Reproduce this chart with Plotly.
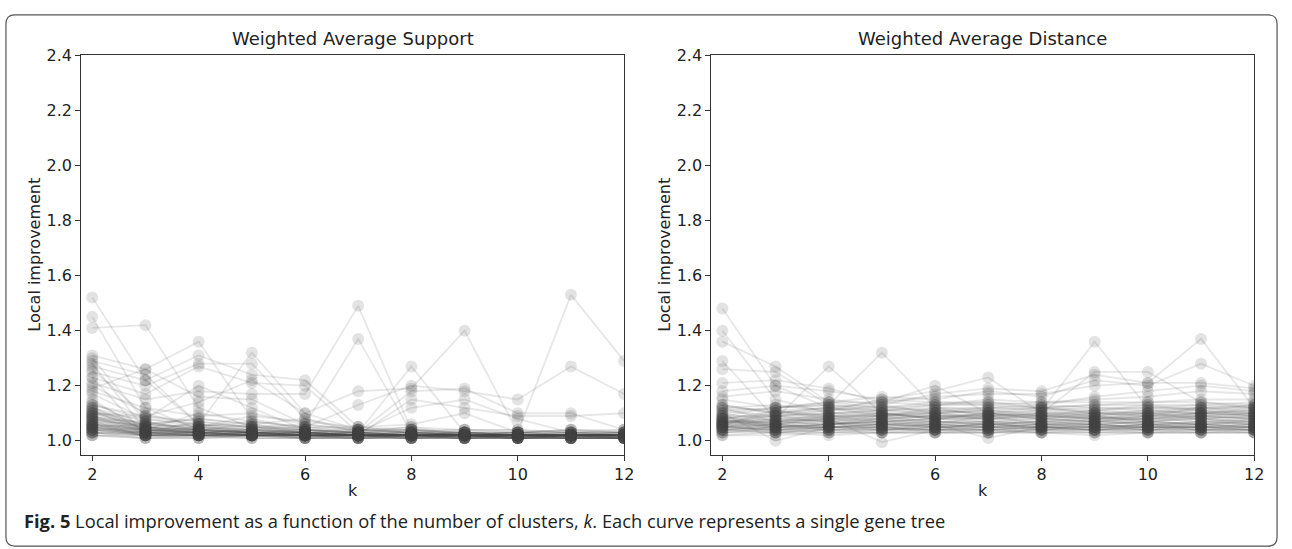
import plotly.graph_objects as go

k_values = [2, 3, 4, 5, 6, 7, 8, 9, 10, 11, 12]
y_ticks = [1.0, 1.2, 1.4, 1.6, 1.8, 2.0, 2.2, 2.4]
x_ticks = [2, 4, 6, 8, 10, 12]
panel_titles = ["Weighted Average Support", "Weighted Average Distance"]

# ---- Weighted Average Support: one list per gene tree (values at k = 2..12)
was_01 = [1.52, 1.22, 1.06, 1.03, 1.02, 1.02, 1.02, 1.02, 1.01, 1.02, 1.02]
was_02 = [1.45, 1.12, 1.04, 1.03, 1.02, 1.02, 1.01, 1.02, 1.02, 1.01, 1.01]
was_03 = [1.41, 1.42, 1.12, 1.05, 1.03, 1.02, 1.02, 1.02, 1.02, 1.02, 1.02]
was_04 = [1.31, 1.26, 1.36, 1.08, 1.04, 1.03, 1.02, 1.02, 1.02, 1.02, 1.02]
was_05 = [1.29, 1.24, 1.06, 1.32, 1.10, 1.04, 1.03, 1.02, 1.02, 1.02, 1.02]
was_06 = [1.27, 1.22, 1.31, 1.24, 1.22, 1.05, 1.03, 1.03, 1.02, 1.02, 1.02]
was_07 = [1.25, 1.20, 1.28, 1.28, 1.08, 1.04, 1.04, 1.02, 1.03, 1.02, 1.02]
was_08 = [1.23, 1.17, 1.27, 1.21, 1.20, 1.03, 1.27, 1.03, 1.02, 1.02, 1.02]
was_09 = [1.21, 1.15, 1.18, 1.17, 1.17, 1.49, 1.04, 1.03, 1.02, 1.02, 1.02]
was_10 = [1.19, 1.26, 1.16, 1.15, 1.06, 1.37, 1.03, 1.02, 1.02, 1.02, 1.02]
was_11 = [1.13, 1.09, 1.14, 1.22, 1.10, 1.18, 1.19, 1.40, 1.03, 1.02, 1.02]
was_12 = [1.12, 1.05, 1.03, 1.02, 1.02, 1.02, 1.02, 1.03, 1.03, 1.53, 1.29]
was_13 = [1.11, 1.04, 1.10, 1.07, 1.05, 1.13, 1.20, 1.18, 1.15, 1.27, 1.17]
was_14 = [1.10, 1.08, 1.20, 1.12, 1.04, 1.03, 1.18, 1.19, 1.10, 1.10, 1.04]
was_15 = [1.08, 1.03, 1.03, 1.04, 1.03, 1.02, 1.15, 1.12, 1.09, 1.09, 1.10]
was_16 = [1.07, 1.06, 1.08, 1.06, 1.08, 1.03, 1.12, 1.15, 1.08, 1.03, 1.03]
was_17 = [1.06, 1.04, 1.05, 1.09, 1.07, 1.05, 1.06, 1.10, 1.03, 1.04, 1.03]
was_18 = [1.05, 1.03, 1.02, 1.02, 1.02, 1.01, 1.02, 1.01, 1.01, 1.01, 1.01]
was_19 = [1.04, 1.02, 1.02, 1.03, 1.01, 1.02, 1.01, 1.02, 1.01, 1.02, 1.01]
was_20 = [1.03, 1.02, 1.01, 1.02, 1.02, 1.01, 1.01, 1.01, 1.02, 1.01, 1.01]
was_21 = [1.02, 1.01, 1.02, 1.01, 1.01, 1.01, 1.02, 1.01, 1.01, 1.01, 1.01]
was_22 = [1.06, 1.03, 1.03, 1.02, 1.02, 1.02, 1.03, 1.02, 1.02, 1.02, 1.02]
was_23 = [1.08, 1.05, 1.04, 1.03, 1.03, 1.02, 1.02, 1.02, 1.02, 1.03, 1.02]
was_24 = [1.09, 1.04, 1.03, 1.04, 1.02, 1.03, 1.02, 1.03, 1.02, 1.02, 1.03]
was_25 = [1.10, 1.06, 1.05, 1.04, 1.03, 1.02, 1.03, 1.02, 1.03, 1.02, 1.02]
was_26 = [1.12, 1.07, 1.04, 1.03, 1.03, 1.03, 1.02, 1.02, 1.02, 1.02, 1.02]
was_27 = [1.15, 1.03, 1.02, 1.03, 1.02, 1.02, 1.02, 1.01, 1.02, 1.02, 1.01]
was_28 = [1.17, 1.08, 1.06, 1.05, 1.04, 1.03, 1.03, 1.02, 1.02, 1.03, 1.02]
was_29 = [1.20, 1.10, 1.05, 1.04, 1.03, 1.02, 1.02, 1.03, 1.02, 1.02, 1.02]
was_30 = [1.23, 1.02, 1.02, 1.02, 1.01, 1.01, 1.01, 1.01, 1.01, 1.01, 1.01]
was_31 = [1.28, 1.04, 1.03, 1.02, 1.02, 1.02, 1.02, 1.02, 1.02, 1.02, 1.02]
was_32 = [1.30, 1.07, 1.04, 1.06, 1.03, 1.02, 1.02, 1.02, 1.01, 1.02, 1.02]
was_33 = [1.04, 1.03, 1.07, 1.05, 1.06, 1.04, 1.05, 1.04, 1.04, 1.03, 1.03]
was_34 = [1.05, 1.04, 1.04, 1.03, 1.04, 1.04, 1.04, 1.03, 1.03, 1.04, 1.04]
was_35 = [1.03, 1.02, 1.03, 1.02, 1.03, 1.02, 1.02, 1.02, 1.02, 1.02, 1.02]
was_36 = [1.02, 1.02, 1.02, 1.02, 1.02, 1.02, 1.02, 1.02, 1.02, 1.02, 1.02]
was_37 = [1.07, 1.02, 1.02, 1.01, 1.01, 1.02, 1.01, 1.01, 1.01, 1.01, 1.01]
was_38 = [1.11, 1.03, 1.02, 1.02, 1.02, 1.01, 1.02, 1.02, 1.01, 1.02, 1.01]
was_39 = [1.09, 1.06, 1.05, 1.03, 1.03, 1.02, 1.02, 1.02, 1.02, 1.02, 1.02]
was_40 = [1.14, 1.05, 1.03, 1.03, 1.02, 1.02, 1.02, 1.02, 1.02, 1.01, 1.02]
was_41 = [1.06, 1.04, 1.03, 1.02, 1.03, 1.03, 1.02, 1.02, 1.02, 1.02, 1.02]
was_42 = [1.03, 1.03, 1.02, 1.03, 1.02, 1.02, 1.03, 1.02, 1.02, 1.02, 1.02]
was_43 = [1.05, 1.02, 1.03, 1.02, 1.01, 1.01, 1.01, 1.02, 1.01, 1.01, 1.01]
was_44 = [1.08, 1.05, 1.02, 1.02, 1.02, 1.02, 1.02, 1.01, 1.02, 1.02, 1.02]
was_45 = [1.04, 1.04, 1.03, 1.03, 1.02, 1.03, 1.02, 1.02, 1.02, 1.02, 1.02]
was_46 = [1.26, 1.09, 1.07, 1.05, 1.04, 1.03, 1.03, 1.02, 1.02, 1.02, 1.02]
was_47 = [1.18, 1.12, 1.09, 1.10, 1.06, 1.04, 1.03, 1.03, 1.02, 1.02, 1.02]
was_48 = [1.02, 1.01, 1.01, 1.01, 1.01, 1.01, 1.01, 1.01, 1.01, 1.01, 1.01]
was_49 = [1.13, 1.08, 1.05, 1.07, 1.05, 1.03, 1.05, 1.02, 1.02, 1.02, 1.02]
was_50 = [1.05, 1.06, 1.04, 1.04, 1.03, 1.02, 1.02, 1.02, 1.02, 1.02, 1.02]
was_51 = [1.07, 1.03, 1.05, 1.03, 1.04, 1.03, 1.02, 1.02, 1.01, 1.01, 1.01]
was_52 = [1.04, 1.02, 1.02, 1.02, 1.02, 1.02, 1.02, 1.02, 1.02, 1.02, 1.02]
was_53 = [1.10, 1.09, 1.06, 1.05, 1.05, 1.04, 1.03, 1.03, 1.03, 1.03, 1.03]
was_54 = [1.03, 1.01, 1.01, 1.02, 1.01, 1.01, 1.01, 1.01, 1.01, 1.01, 1.01]
was_55 = [1.06, 1.05, 1.04, 1.03, 1.02, 1.02, 1.02, 1.02, 1.01, 1.02, 1.02]
was_56 = [1.09, 1.03, 1.03, 1.02, 1.02, 1.02, 1.01, 1.01, 1.01, 1.01, 1.01]
was_57 = [1.04, 1.05, 1.06, 1.04, 1.05, 1.05, 1.04, 1.04, 1.03, 1.04, 1.03]
was_58 = [1.11, 1.06, 1.08, 1.06, 1.04, 1.03, 1.04, 1.03, 1.03, 1.03, 1.04]
was_59 = [1.06, 1.02, 1.04, 1.05, 1.03, 1.04, 1.03, 1.04, 1.04, 1.03, 1.03]
was_60 = [1.08, 1.07, 1.03, 1.04, 1.04, 1.02, 1.04, 1.02, 1.03, 1.03, 1.02]
was_61 = [1.05, 1.03, 1.03, 1.02, 1.03, 1.02, 1.02, 1.01, 1.02, 1.02, 1.02]
was_62 = [1.07, 1.04, 1.02, 1.03, 1.02, 1.02, 1.02, 1.02, 1.02, 1.01, 1.01]
was_63 = [1.10, 1.05, 1.04, 1.02, 1.02, 1.01, 1.02, 1.02, 1.02, 1.02, 1.02]
was_64 = [1.04, 1.03, 1.02, 1.02, 1.02, 1.02, 1.01, 1.02, 1.02, 1.02, 1.02]
was_65 = [1.12, 1.04, 1.03, 1.03, 1.03, 1.02, 1.02, 1.02, 1.02, 1.02, 1.02]
was_66 = [1.06, 1.02, 1.02, 1.02, 1.02, 1.02, 1.02, 1.02, 1.01, 1.01, 1.01]
was_67 = [1.03, 1.03, 1.04, 1.03, 1.02, 1.03, 1.02, 1.03, 1.02, 1.02, 1.02]
was_68 = [1.08, 1.04, 1.04, 1.03, 1.03, 1.02, 1.02, 1.02, 1.02, 1.02, 1.03]
was_69 = [1.05, 1.02, 1.02, 1.02, 1.02, 1.02, 1.02, 1.01, 1.01, 1.02, 1.01]
was_70 = [1.09, 1.05, 1.03, 1.03, 1.03, 1.03, 1.02, 1.02, 1.02, 1.02, 1.02]

# ---- Weighted Average Distance: one list per gene tree (values at k = 2..12)
wad_01 = [1.48, 1.20, 1.12, 1.10, 1.08, 1.09, 1.08, 1.10, 1.09, 1.10, 1.09]
wad_02 = [1.40, 1.15, 1.10, 1.09, 1.10, 1.08, 1.10, 1.08, 1.10, 1.08, 1.07]
wad_03 = [1.36, 1.27, 1.14, 1.12, 1.11, 1.10, 1.09, 1.11, 1.10, 1.12, 1.10]
wad_04 = [1.29, 1.08, 1.27, 1.10, 1.09, 1.10, 1.08, 1.09, 1.07, 1.09, 1.08]
wad_05 = [1.26, 1.25, 1.13, 1.32, 1.12, 1.11, 1.12, 1.10, 1.11, 1.10, 1.11]
wad_06 = [1.21, 1.22, 1.19, 1.14, 1.20, 1.10, 1.11, 1.36, 1.12, 1.12, 1.13]
wad_07 = [1.18, 1.20, 1.18, 1.15, 1.18, 1.23, 1.10, 1.25, 1.25, 1.14, 1.12]
wad_08 = [1.16, 1.18, 1.15, 1.13, 1.17, 1.19, 1.18, 1.24, 1.21, 1.37, 1.12]
wad_09 = [1.15, 1.12, 1.14, 1.16, 1.15, 1.18, 1.16, 1.22, 1.20, 1.28, 1.20]
wad_10 = [1.13, 1.10, 1.12, 1.14, 1.16, 1.17, 1.17, 1.20, 1.21, 1.21, 1.19]
wad_11 = [1.12, 1.13, 1.11, 1.15, 1.14, 1.14, 1.13, 1.16, 1.18, 1.20, 1.18]
wad_12 = [1.11, 1.12, 1.13, 1.12, 1.13, 1.15, 1.14, 1.15, 1.16, 1.18, 1.17]
wad_13 = [1.10, 1.00, 1.05, 1.06, 1.05, 1.06, 1.05, 1.06, 1.05, 1.06, 1.05]
wad_14 = [1.09, 1.06, 1.08, 0.995, 1.04, 1.05, 1.04, 1.05, 1.04, 1.05, 1.04]
wad_15 = [1.08, 1.05, 1.06, 1.07, 1.06, 1.01, 1.05, 1.04, 1.06, 1.04, 1.05]
wad_16 = [1.07, 1.07, 1.08, 1.08, 1.09, 1.08, 1.09, 1.08, 1.09, 1.08, 1.09]
wad_17 = [1.06, 1.05, 1.05, 1.04, 1.05, 1.04, 1.05, 1.04, 1.05, 1.05, 1.04]
wad_18 = [1.05, 1.04, 1.04, 1.05, 1.04, 1.05, 1.04, 1.05, 1.04, 1.04, 1.05]
wad_19 = [1.04, 1.03, 1.03, 1.03, 1.03, 1.03, 1.04, 1.03, 1.03, 1.03, 1.03]
wad_20 = [1.03, 1.03, 1.04, 1.03, 1.04, 1.04, 1.03, 1.04, 1.04, 1.04, 1.03]
wad_21 = [1.02, 1.02, 1.03, 1.03, 1.03, 1.03, 1.03, 1.03, 1.03, 1.03, 1.03]
wad_22 = [1.07, 1.09, 1.10, 1.11, 1.12, 1.12, 1.11, 1.12, 1.11, 1.12, 1.12]
wad_23 = [1.06, 1.08, 1.07, 1.06, 1.07, 1.07, 1.08, 1.07, 1.08, 1.07, 1.08]
wad_24 = [1.08, 1.10, 1.09, 1.10, 1.10, 1.11, 1.10, 1.11, 1.12, 1.11, 1.10]
wad_25 = [1.05, 1.06, 1.07, 1.05, 1.06, 1.05, 1.06, 1.07, 1.06, 1.06, 1.07]
wad_26 = [1.09, 1.05, 1.06, 1.08, 1.07, 1.06, 1.07, 1.06, 1.07, 1.08, 1.06]
wad_27 = [1.12, 1.11, 1.12, 1.11, 1.13, 1.13, 1.12, 1.13, 1.13, 1.13, 1.14]
wad_28 = [1.04, 1.04, 1.05, 1.06, 1.05, 1.06, 1.06, 1.05, 1.06, 1.05, 1.06]
wad_29 = [1.06, 1.03, 1.04, 1.04, 1.04, 1.04, 1.05, 1.04, 1.05, 1.04, 1.04]
wad_30 = [1.03, 1.05, 1.06, 1.07, 1.08, 1.07, 1.07, 1.08, 1.08, 1.09, 1.08]
wad_31 = [1.05, 1.08, 1.09, 1.09, 1.11, 1.10, 1.12, 1.10, 1.10, 1.10, 1.11]
wad_32 = [1.07, 1.06, 1.05, 1.06, 1.06, 1.09, 1.06, 1.06, 1.07, 1.06, 1.06]
wad_33 = [1.10, 1.07, 1.10, 1.10, 1.08, 1.10, 1.09, 1.09, 1.08, 1.10, 1.09]
wad_34 = [1.04, 1.06, 1.04, 1.05, 1.03, 1.04, 1.03, 1.03, 1.04, 1.03, 1.04]
wad_35 = [1.08, 1.09, 1.11, 1.13, 1.10, 1.12, 1.13, 1.12, 1.12, 1.13, 1.12]
wad_36 = [1.06, 1.11, 1.08, 1.09, 1.09, 1.08, 1.08, 1.07, 1.09, 1.09, 1.10]
wad_37 = [1.05, 1.04, 1.06, 1.07, 1.07, 1.06, 1.07, 1.06, 1.05, 1.07, 1.07]
wad_38 = [1.07, 1.05, 1.07, 1.04, 1.06, 1.05, 1.05, 1.05, 1.06, 1.05, 1.05]
wad_39 = [1.11, 1.09, 1.07, 1.08, 1.09, 1.09, 1.10, 1.09, 1.10, 1.09, 1.10]
wad_40 = [1.03, 1.04, 1.03, 1.04, 1.04, 1.03, 1.04, 1.04, 1.03, 1.04, 1.04]
wad_41 = [1.09, 1.12, 1.13, 1.11, 1.11, 1.12, 1.12, 1.11, 1.13, 1.11, 1.13]
wad_42 = [1.12, 1.07, 1.09, 1.09, 1.10, 1.11, 1.09, 1.10, 1.09, 1.12, 1.11]
wad_43 = [1.05, 1.05, 1.05, 1.06, 1.05, 1.05, 1.05, 1.05, 1.05, 1.05, 1.06]
wad_44 = [1.06, 1.07, 1.08, 1.07, 1.08, 1.08, 1.07, 1.07, 1.07, 1.08, 1.07]
wad_45 = [1.04, 1.05, 1.04, 1.04, 1.05, 1.04, 1.04, 1.06, 1.04, 1.06, 1.05]
wad_46 = [1.08, 1.04, 1.05, 1.05, 1.04, 1.07, 1.04, 1.04, 1.05, 1.04, 1.04]
wad_47 = [1.13, 1.10, 1.11, 1.12, 1.14, 1.13, 1.14, 1.14, 1.14, 1.15, 1.15]
wad_48 = [1.02, 1.03, 1.02, 1.03, 1.03, 1.03, 1.03, 1.02, 1.03, 1.03, 1.03]
wad_49 = [1.06, 1.10, 1.12, 1.09, 1.12, 1.09, 1.11, 1.09, 1.11, 1.10, 1.12]
wad_50 = [1.08, 1.06, 1.09, 1.07, 1.08, 1.10, 1.08, 1.07, 1.08, 1.09, 1.08]
wad_51 = [1.05, 1.07, 1.06, 1.08, 1.06, 1.07, 1.06, 1.08, 1.06, 1.07, 1.06]
wad_52 = [1.10, 1.12, 1.14, 1.14, 1.13, 1.14, 1.12, 1.13, 1.14, 1.14, 1.13]
wad_53 = [1.04, 1.03, 1.05, 1.05, 1.04, 1.04, 1.05, 1.04, 1.04, 1.05, 1.05]
wad_54 = [1.07, 1.08, 1.07, 1.09, 1.07, 1.06, 1.07, 1.09, 1.07, 1.06, 1.07]
wad_55 = [1.06, 1.06, 1.08, 1.06, 1.07, 1.07, 1.06, 1.06, 1.07, 1.06, 1.08]
wad_56 = [1.09, 1.09, 1.10, 1.11, 1.10, 1.09, 1.10, 1.10, 1.10, 1.11, 1.09]
wad_57 = [1.05, 1.04, 1.05, 1.05, 1.06, 1.05, 1.06, 1.06, 1.05, 1.05, 1.05]
wad_58 = [1.07, 1.07, 1.06, 1.07, 1.05, 1.06, 1.05, 1.07, 1.06, 1.07, 1.06]
wad_59 = [1.08, 1.11, 1.09, 1.08, 1.09, 1.09, 1.09, 1.08, 1.09, 1.10, 1.10]
wad_60 = [1.04, 1.05, 1.06, 1.06, 1.06, 1.06, 1.05, 1.05, 1.06, 1.06, 1.05]
wad_61 = [1.06, 1.09, 1.08, 1.10, 1.08, 1.08, 1.09, 1.08, 1.08, 1.08, 1.09]
wad_62 = [1.05, 1.06, 1.05, 1.04, 1.05, 1.05, 1.06, 1.05, 1.05, 1.05, 1.04]

support_trees = [was_01, was_02, was_03, was_04, was_05, was_06, was_07, was_08,
                 was_09, was_10, was_11, was_12, was_13, was_14, was_15, was_16,
                 was_17, was_18, was_19, was_20, was_21, was_22, was_23, was_24,
                 was_25, was_26, was_27, was_28, was_29, was_30, was_31, was_32,
                 was_33, was_34, was_35, was_36, was_37, was_38, was_39, was_40,
                 was_41, was_42, was_43, was_44, was_45, was_46, was_47, was_48,
                 was_49, was_50, was_51, was_52, was_53, was_54, was_55, was_56,
                 was_57, was_58, was_59, was_60, was_61, was_62, was_63, was_64,
                 was_65, was_66, was_67, was_68, was_69, was_70]
distance_trees = [wad_01, wad_02, wad_03, wad_04, wad_05, wad_06, wad_07, wad_08,
                  wad_09, wad_10, wad_11, wad_12, wad_13, wad_14, wad_15, wad_16,
                  wad_17, wad_18, wad_19, wad_20, wad_21, wad_22, wad_23, wad_24,
                  wad_25, wad_26, wad_27, wad_28, wad_29, wad_30, wad_31, wad_32,
                  wad_33, wad_34, wad_35, wad_36, wad_37, wad_38, wad_39, wad_40,
                  wad_41, wad_42, wad_43, wad_44, wad_45, wad_46, wad_47, wad_48,
                  wad_49, wad_50, wad_51, wad_52, wad_53, wad_54, wad_55, wad_56,
                  wad_57, wad_58, wad_59, wad_60, wad_61, wad_62]

W, H = 1292, 549
LINE_C = "rgba(70,70,70,0.13)"
MARK_C = "rgba(70,70,70,0.15)"

fig = go.Figure()
for trees, xa, ya in [(support_trees, "x", "y"), (distance_trees, "x2", "y2")]:
    for vals in trees:
        fig.add_trace(go.Scatter(
            x=k_values, y=vals, xaxis=xa, yaxis=ya, mode="lines+markers",
            line=dict(color=LINE_C, width=1.8),
            marker=dict(color=MARK_C, size=12, line=dict(width=0)),
            showlegend=False, hoverinfo="skip"))

def px_x(p):
    return p / W

def px_y(p):
    return 1 - p / H

tick_font = dict(family="DejaVu Sans", size=16, color="#222")
axis_common = dict(showline=True, linecolor="#333", linewidth=1.3, mirror=True,
                   ticks="outside", ticklen=5, tickwidth=1.2, tickcolor="#333",
                   showgrid=False, zeroline=False, tickfont=tick_font, fixedrange=True)

fig.update_layout(
    width=W, height=H, margin=dict(l=0, r=0, t=0, b=0),
    paper_bgcolor="white", plot_bgcolor="white",
    xaxis=dict(domain=[px_x(82), px_x(629)], range=[1.795, 12], tickvals=x_ticks,
               **axis_common),
    yaxis=dict(domain=[px_y(453), px_y(47)], range=[0.95, 2.4], tickvals=y_ticks,
               tickformat=".1f", **axis_common),
    xaxis2=dict(domain=[px_x(717), px_x(1264)], range=[1.795, 12], tickvals=x_ticks,
                anchor="y2", **axis_common),
    yaxis2=dict(domain=[px_y(453), px_y(47)], range=[0.95, 2.4], tickvals=y_ticks,
                tickformat=".1f", anchor="x2", **axis_common),
)

label_font = dict(family="DejaVu Sans", size=16, color="#222")
title_font = dict(family="DejaVu Sans", size=18, color="#222")
annotations = []
for (x0, x1), title in zip([(82, 629), (717, 1264)], panel_titles):
    xc = (x0 + x1) / 2
    annotations.append(dict(text=title, x=px_x(xc), y=px_y(30), xref="paper", yref="paper",
                            showarrow=False, font=title_font, xanchor="center", yanchor="middle"))
    annotations.append(dict(text="k", x=px_x(xc), y=px_y(490), xref="paper", yref="paper",
                            showarrow=False, font=label_font, xanchor="center", yanchor="middle"))
    annotations.append(dict(text="Local improvement", x=px_x(x0 - 47), y=px_y(250),
                            xref="paper", yref="paper", showarrow=False, font=label_font,
                            textangle=-90, xanchor="center", yanchor="middle"))
annotations.append(dict(
    text="<b>Fig. 5</b> Local improvement as a function of the number of clusters, <i>k</i>. "
         "Each curve represents a single gene tree",
    x=px_x(22), y=px_y(520), xref="paper", yref="paper", showarrow=False,
    font=dict(family="Open Sans", size=18.3, color="#222"), xanchor="left", yanchor="middle"))
fig.update_layout(annotations=annotations)

# rounded frame around the whole figure
l, t, r, b, rad = 6, 6, 1287, 546, 9
def P(x, y):
    return f"{px_x(x):.6f},{px_y(y):.6f}"
path = (f"M {P(l + rad, t)} L {P(r - rad, t)} Q {P(r, t)} {P(r, t + rad)} "
        f"L {P(r, b - rad)} Q {P(r, b)} {P(r - rad, b)} L {P(l + rad, b)} "
        f"Q {P(l, b)} {P(l, b - rad)} L {P(l, t + rad)} Q {P(l, t)} {P(l + rad, t)} Z")
fig.add_shape(type="path", path=path, xref="paper", yref="paper",
              line=dict(color="#555", width=1.2), fillcolor="rgba(0,0,0,0)", layer="below")

fig.write_html("out.html", config={"displayModeBar": False},
               post_script="document.body.style.margin='0';document.body.style.padding='0';"
                           "document.body.style.overflow='hidden';")
